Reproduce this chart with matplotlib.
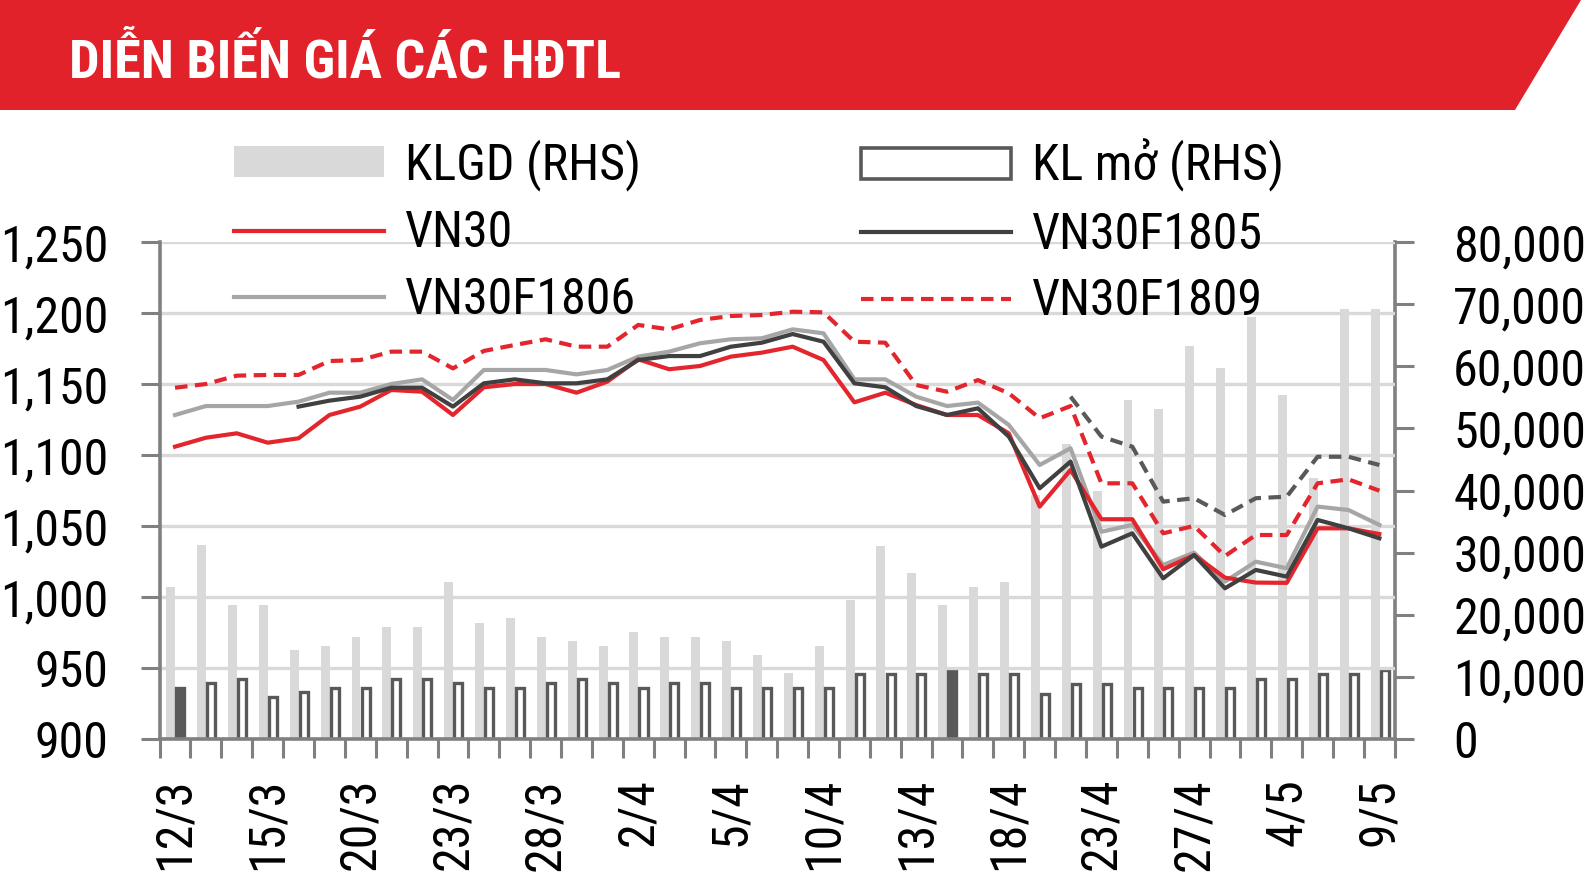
import matplotlib
matplotlib.use('Agg')
import matplotlib.pyplot as plt
from matplotlib import font_manager as fm
from matplotlib.patches import Polygon, Patch
from matplotlib.ticker import FuncFormatter
import numpy as np

installed = {f.name for f in fm.fontManager.ttflist}
narrow = next((n for n in ['Liberation Sans Narrow', 'Roboto Condensed', 'Arial Narrow',
                           'Liberation Sans'] if n in installed), 'DejaVu Sans')
FAM = [narrow, 'Liberation Sans', 'DejaVu Sans']
plt.rcParams['font.family'] = FAM

nan = np.nan

# ---------------- data ----------------
dates = ['12/3', '13/3', '14/3', '15/3', '16/3', '19/3', '20/3', '21/3', '22/3', '23/3',
         '26/3', '27/3', '28/3', '29/3', '30/3', '2/4', '3/4', '4/4', '5/4', '6/4',
         '9/4', '10/4', '11/4', '12/4', '13/4', '16/4', '17/4', '18/4', '19/4', '20/4',
         '23/4', '24/4', '26/4', '27/4', '2/5', '3/5', '4/5', '7/5', '8/5', '9/5']

vn30 = [1105.9, 1112.2, 1115.3, 1108.7, 1111.8, 1128.2, 1134.1, 1145.8, 1144.6, 1128.2,
        1147.7, 1150.0, 1150.0, 1143.9, 1151.7, 1167.4, 1160.4, 1162.7, 1169.3, 1172.1,
        1176.3, 1166.9, 1137.1, 1143.9, 1135.2, 1128.2, 1128.2, 1115.3, 1063.7, 1089.5,
        1054.8, 1054.8, 1019.6, 1029.6, 1013.7, 1010.2, 1010.0, 1048.4, 1048.4, 1044.4]

vn30f1805 = [nan, nan, nan, nan, 1134.1, 1138.3, 1141.1, 1147.4, 1147.4, 1134.1,
             1150.5, 1153.3, 1150.5, 1150.5, 1153.3, 1166.9, 1169.7, 1169.7, 1176.3, 1179.1,
             1185.2, 1179.8, 1150.5, 1147.7, 1134.5, 1128.2, 1132.9, 1113.0, 1076.6, 1095.4,
             1035.5, 1044.9, 1013.2, 1029.6, 1006.2, 1019.1, 1014.4, 1054.3, 1048.4, 1041.4]

vn30f1806 = [1128.2, 1134.5, 1134.5, 1134.5, 1137.6, 1143.9, 1143.9, 1150.0, 1153.3, 1138.8,
             1159.9, 1159.9, 1159.9, 1156.8, 1159.9, 1169.3, 1172.8, 1178.7, 1181.5, 1182.2,
             1188.5, 1185.7, 1153.3, 1153.3, 1141.1, 1134.5, 1136.9, 1121.2, 1093.0, 1104.8,
             1046.0, 1050.8, 1022.6, 1031.3, 1010.9, 1024.9, 1020.3, 1063.7, 1061.3, 1050.8]

vn30f1809 = [1147.4, 1150.0, 1155.9, 1156.4, 1156.4, 1166.2, 1166.9, 1172.8, 1172.8, 1161.0,
             1173.3, 1177.5, 1181.5, 1176.3, 1176.3, 1191.6, 1188.5, 1195.1, 1197.9, 1198.6,
             1200.9, 1200.5, 1179.8, 1179.1, 1149.3, 1144.6, 1152.8, 1143.5, 1125.9, 1134.5,
             1080.1, 1080.1, 1044.9, 1050.1, 1028.9, 1043.7, 1043.7, 1080.1, 1082.9, 1074.9]

vn30f1812 = [nan] * 29 + [1141.1, 1113.0, 1105.9, 1067.2, 1069.6, 1057.8, 1069.6, 1070.7,
                          1098.8, 1098.8, 1093.0]

klgd = [24530, 31240, 21580, 21580, 14340, 14980, 16480, 17990, 17990, 25330,
        18730, 19440, 16480, 15790, 14980, 17240, 16480, 16480, 15790, 13530,
        10590, 14980, 22380, 31080, 26780, 21580, 24530, 25280, 39300, 47500,
        40000, 54570, 53070, 63310, 59670, 68000, 55380, 42000, 69170, 69170]

kl_mo = [8300, 9000, 9700, 6800, 7500, 8300, 8300, 9700, 9700, 9000,
         8300, 8300, 9000, 9700, 9000, 8300, 9000, 9000, 8300, 8300,
         8300, 8300, 10400, 10400, 10400, 11100, 10400, 10400, 7300, 8900,
         8900, 8300, 8300, 8300, 8300, 9700, 9700, 10400, 10400, 11100]
kl_mo_filled = [0, 25]

title = 'DIỄN BIẾN GIÁ CÁC HĐTL'

# ---------------- style ----------------
RED = '#e3262e'
DARK = '#404040'
LGREY = '#a6a6a6'
BARGREY = '#d9d9d9'
EDGE = '#595959'
AXGREY = '#808080'
FS = 36

W, H = 1594, 877
fig = plt.figure(figsize=(W / 100, H / 100), dpi=100)
fig.patch.set_facecolor('white')

# header banner
fig.add_artist(Polygon([(0, 1), (1581 / W, 1), (1515 / W, 1 - 110 / H), (0, 1 - 110 / H)],
                       closed=True, transform=fig.transFigure, facecolor='#e2222b',
                       edgecolor='none'))
fig.text(69 / W, 1 - 78 / H, title, color='white', fontsize=39, fontweight='bold',
         ha='left', va='baseline', family=FAM)

L, R, T, B = 159.6 / W, 1394.8 / W, 1 - 242 / H, 1 - 739.1 / H
ax = fig.add_axes([L, B, R - L, T - B])
ax2 = ax.twinx()
ax.set_zorder(2)
ax.patch.set_visible(False)
ax2.set_zorder(1)

x = np.arange(len(dates))

# bars (right axis)
ax2.bar(x - 0.14, klgd, width=0.29, color=BARGREY, zorder=1)
faces = ['white'] * len(kl_mo)
for i in kl_mo_filled:
    faces[i] = EDGE
ax2.bar(x + 0.17, kl_mo, width=0.26, facecolor=faces, edgecolor=EDGE, linewidth=2.4, zorder=2)

# lines (left axis)
LW = 3.0
l1806, = ax.plot(x, vn30f1806, color=LGREY, lw=LW, label='VN30F1806')
l30, = ax.plot(x, vn30, color=RED, lw=LW, label='VN30')
l1805, = ax.plot(x, vn30f1805, color=DARK, lw=LW, label='VN30F1805')
l1809, = ax.plot(x, vn30f1809, color=RED, lw=LW, dashes=(3.0, 1.8), label='VN30F1809')
l1812, = ax.plot(x, vn30f1812, color=EDGE, lw=LW, dashes=(3.0, 1.8))

# axes limits & ticks
ax.set_xlim(-0.5, len(dates) - 0.5)
ax.set_ylim(900, 1250)
ax2.set_ylim(0, 80000)

ax.set_xticks(x[::3])
ax.set_xticklabels(dates[::3], rotation=90, fontsize=FS)
ax.set_xticks(np.arange(-0.5, len(dates), 1), minor=True)
ax.tick_params(axis='x', which='major', length=0, pad=28)
ax.tick_params(axis='x', which='minor', length=14, width=2.2, color=AXGREY, direction='out')

ax.set_yticks(np.arange(900, 1251, 50))
ax.yaxis.set_major_formatter(FuncFormatter(lambda v, p: f'{v:,.0f}'))
ax.tick_params(axis='y', length=14, width=2.2, color=AXGREY, labelsize=FS, pad=23)

ax2.set_yticks(np.arange(0, 80001, 10000))
ax2.yaxis.set_major_formatter(FuncFormatter(lambda v, p: f'{v:,.0f}'))
ax2.tick_params(axis='y', length=14, width=2.2, color=AXGREY, labelsize=FS, pad=28)

ax.yaxis.grid(True, color=BARGREY, lw=2.4)
ax.set_axisbelow(True)

for s in ['top', 'right']:
    ax.spines[s].set_visible(False)
for s in ['left', 'bottom']:
    ax.spines[s].set_color(AXGREY)
    ax.spines[s].set_linewidth(2.6)
for s in ['top', 'left', 'bottom']:
    ax2.spines[s].set_visible(False)
ax2.spines['right'].set_color(AXGREY)
ax2.spines['right'].set_linewidth(2.6)

# legend: two columns
common = dict(loc='upper left', frameon=False, fontsize=FS, handlelength=3.0,
              handleheight=0.57, handletextpad=0.42, labelspacing=0.37,
              borderpad=0, borderaxespad=0)
leg1 = fig.legend([Patch(facecolor=BARGREY, edgecolor='none'), l30, l1806],
                  ['KLGD (RHS)', 'VN30', 'VN30F1806'],
                  bbox_to_anchor=(234 / W, 1 - 139 / H), **common)
leg2 = fig.legend([Patch(facecolor='white', edgecolor=EDGE, linewidth=2.6), l1805, l1809],
                  ['KL mở (RHS)', 'VN30F1805', 'VN30F1809'],
                  bbox_to_anchor=(861 / W, 1 - 139 / H), **common)

fig.savefig('out.png', dpi=100)
